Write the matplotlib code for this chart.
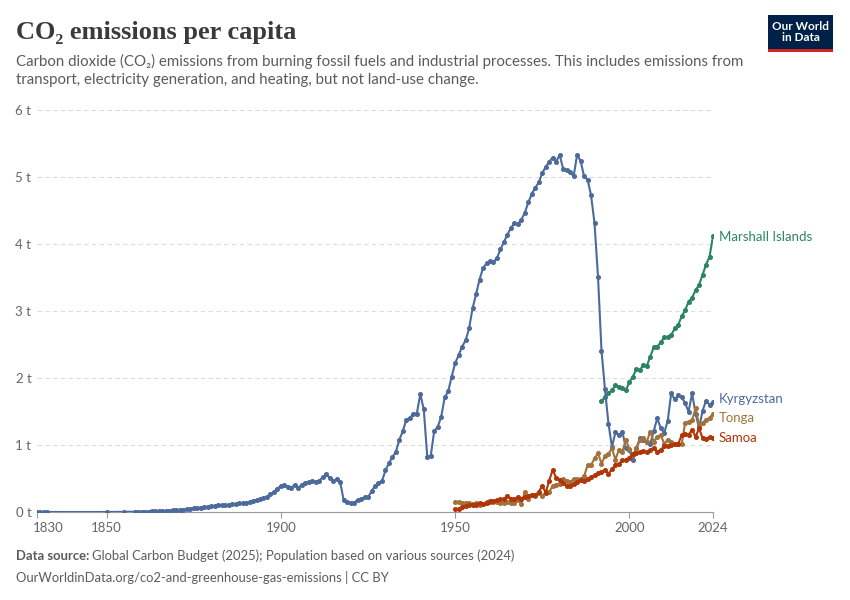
import matplotlib
matplotlib.use('Agg')
import matplotlib.pyplot as plt
import matplotlib.transforms as mtrans
from matplotlib.patches import Rectangle

plt.rcParams['font.family'] = ['Lato', 'DejaVu Sans']

# --- data (tonnes of CO2 per person) ---
kgz_years = [1830, 1831, 1832, 1833, 1850, 1855] + list(range(1858, 2025))
kgz_values = [
    0.0, 0.0, 0.0, 0.0, 0.0, 0.002,
    # 1858-1899
    0.003, 0.004, 0.005, 0.006, 0.007, 0.008, 0.01, 0.012, 0.015, 0.018,
    0.021, 0.024, 0.027, 0.03, 0.036, 0.042, 0.048, 0.054, 0.06, 0.066,
    0.072, 0.08, 0.088, 0.093, 0.098, 0.10, 0.105, 0.11, 0.115, 0.12,
    0.128, 0.135, 0.14, 0.15, 0.165, 0.18, 0.19, 0.21, 0.23, 0.27,
    0.30, 0.35,
    # 1900-1949
    0.39, 0.40, 0.38, 0.36, 0.41, 0.36, 0.41, 0.44, 0.45, 0.47,
    0.45, 0.47, 0.52, 0.56, 0.51, 0.46, 0.49, 0.45, 0.18, 0.15,
    0.13, 0.14, 0.18, 0.19, 0.22, 0.22, 0.31, 0.39, 0.43, 0.46,
    0.62, 0.73, 0.82, 0.90, 1.08, 1.21, 1.38, 1.40, 1.47, 1.47,
    1.76, 1.53, 0.82, 0.84, 1.21, 1.27, 1.42, 1.71, 1.80, 2.02,
    # 1950-1999
    2.22, 2.34, 2.47, 2.56, 2.74, 3.04, 3.25, 3.47, 3.64, 3.71,
    3.74, 3.73, 3.79, 3.92, 4.03, 4.14, 4.24, 4.31, 4.30, 4.36,
    4.47, 4.62, 4.75, 4.84, 4.92, 5.06, 5.15, 5.23, 5.29, 5.23,
    5.33, 5.12, 5.10, 5.07, 5.01, 5.33, 5.24, 5.01, 4.96, 4.73,
    4.31, 3.51, 2.41, 1.83, 1.32, 0.97, 1.19, 1.15, 1.20, 0.95,
    # 2000-2024
    0.93, 0.77, 0.95, 1.10, 1.08, 1.05, 1.02, 1.21, 1.40, 1.25,
    1.18, 1.36, 1.77, 1.68, 1.74, 1.72, 1.62, 1.50, 1.77, 1.47,
    1.25, 1.51, 1.66, 1.60, 1.64,
]

mhl_years = list(range(1992, 2025))
mhl_values = [
    1.66, 1.71, 1.77, 1.82, 1.89, 1.87, 1.85, 1.82,
    1.94, 2.02, 2.13, 2.12, 2.19, 2.18, 2.32, 2.46, 2.47, 2.53,
    2.61, 2.61, 2.64, 2.74, 2.79, 2.92, 3.01, 3.14, 3.20, 3.31,
    3.39, 3.54, 3.69, 3.81, 4.12,
]

ton_years = list(range(1950, 2025))
ton_values = [
    0.15, 0.15, 0.14, 0.14, 0.13, 0.12, 0.13, 0.11, 0.12, 0.15,
    0.15, 0.15, 0.15, 0.14, 0.14, 0.15, 0.14, 0.14, 0.18, 0.12,
    0.30, 0.20, 0.25, 0.24, 0.28, 0.24, 0.30, 0.30, 0.39, 0.41,
    0.42, 0.49, 0.47, 0.45, 0.49, 0.49, 0.49, 0.53, 0.70, 0.70,
    0.80, 0.88, 0.72, 0.84, 0.87, 0.95, 0.78, 0.93, 0.90, 1.08,
    0.94, 0.85, 0.95, 1.07, 1.10, 1.05, 1.20, 1.05, 1.12, 1.15,
    1.02, 1.08, 1.05, 1.02, 1.02, 1.01, 1.33, 1.35, 1.37, 1.55,
    1.30, 1.33, 1.38, 1.40, 1.47,
]

wsm_years = list(range(1950, 2025))
wsm_values = [
    0.04, 0.05, 0.08, 0.09, 0.11, 0.11, 0.11, 0.14, 0.12, 0.14,
    0.17, 0.16, 0.18, 0.19, 0.20, 0.24, 0.20, 0.19, 0.22, 0.20,
    0.23, 0.24, 0.26, 0.25, 0.30, 0.39, 0.29, 0.47, 0.63, 0.51,
    0.48, 0.43, 0.39, 0.39, 0.42, 0.45, 0.48, 0.47, 0.50, 0.52,
    0.55, 0.58, 0.59, 0.63, 0.57, 0.64, 0.70, 0.72, 0.77, 0.78,
    0.81, 0.87, 0.88, 0.90, 0.91, 0.90, 0.92, 0.96, 0.90, 0.93,
    0.98, 0.98, 1.00, 1.01, 1.01, 1.15, 1.17, 1.15, 1.23, 1.12,
    1.25, 1.10, 1.09, 1.12, 1.10,
]

# name, years, values, colour, vertical label nudge in points (labels are spread apart)
series = [
    ('Marshall Islands', mhl_years, mhl_values, '#2C8465', -1),
    ('Kyrgyzstan', kgz_years, kgz_values, '#4C6A9C', 2),
    ('Tonga', ton_years, ton_values, '#A2723A', -3),
    ('Samoa', wsm_years, wsm_values, '#B13507', 0),
]
y_ticks = [0, 1, 2, 3, 4, 5, 6]
x_ticks = [1830, 1850, 1900, 1950, 2000, 2024]

W, H = 850, 600
fig = plt.figure(figsize=(8.5, 6), dpi=100)
ax = fig.add_axes([37 / W, 88 / H, 676 / W, 402 / H])

for name, xs, ys, color, dy in series:
    ax.plot(xs, ys, color=color, lw=1.5, marker='o', ms=2.6, zorder=3)
    ax.annotate(name, (xs[-1], ys[-1]), xytext=(4, dy), textcoords='offset points',
                color=color, fontsize=9.5, va='center', ha='left',
                annotation_clip=False)

ax.set_xlim(1830, 2024)
ax.set_ylim(0, 6)

ax.set_yticks(y_ticks)
ax.set_yticklabels([f'{v} t' for v in y_ticks])
ax.tick_params(axis='y', length=0, pad=4, labelsize=9.5, labelcolor='#666666')
ax.grid(axis='y', color='#dddddd', lw=0.8, ls=(0, (4, 3)))
ax.set_axisbelow(True)

ax.set_xticks(x_ticks)
ax.set_xticklabels([str(v) for v in x_ticks])
ax.tick_params(axis='x', length=4, width=0.8, color='#999999', pad=3,
               labelsize=9.5, labelcolor='#666666')
first = ax.get_xticklabels()[0]
first.set_ha('left')
first.set_transform(first.get_transform() +
                    mtrans.ScaledTranslation(-4 / 100, 0, fig.dpi_scale_trans))

for side in ['top', 'right', 'left']:
    ax.spines[side].set_visible(False)
ax.spines['bottom'].set_color('#999999')
ax.spines['bottom'].set_linewidth(0.8)

# header
fig.text(16 / W, 1 - 32 / H, 'CO₂ emissions per capita', fontsize=19,
         family=['Liberation Serif', 'DejaVu Serif'], weight='bold',
         color='#3a3a3a', va='center')
fig.text(16 / W, 1 - 61 / H,
         'Carbon dioxide (CO₂) emissions from burning fossil fuels and industrial '
         'processes. This includes emissions from', fontsize=10.8, color='#5b5b5b',
         va='center')
fig.text(16 / W, 1 - 80 / H,
         'transport, electricity generation, and heating, but not land-use change.',
         fontsize=10.8, color='#5b5b5b', va='center')

# logo
fig.add_artist(Rectangle((768 / W, 1 - 49 / H), 65 / W, 34 / H,
                         transform=fig.transFigure, fc='#002147', ec='none'))
fig.add_artist(Rectangle((768 / W, 1 - 52 / H), 65 / W, 3 / H,
                         transform=fig.transFigure, fc='#ce261e', ec='none'))
fig.text(800.5 / W, 1 - 32 / H, 'Our World\nin Data', color='white', fontsize=8.5,
         ha='center', va='center', weight='bold', linespacing=1.0)

# footer
src = fig.text(16 / W, 1 - 556 / H, 'Data source:', fontsize=9.4, color='#5b5b5b',
               weight='bold', va='center')
fig.canvas.draw()
bb = src.get_window_extent()
fig.text((bb.x1 + 3) / W, 1 - 556 / H,
         'Global Carbon Budget (2025); Population based on various sources (2024)',
         fontsize=9.4, color='#5b5b5b', va='center')
fig.text(16 / W, 1 - 577 / H,
         'OurWorldinData.org/co2-and-greenhouse-gas-emissions | CC BY',
         fontsize=9.4, color='#5b5b5b', va='center')

fig.savefig('out.png', dpi=100)
